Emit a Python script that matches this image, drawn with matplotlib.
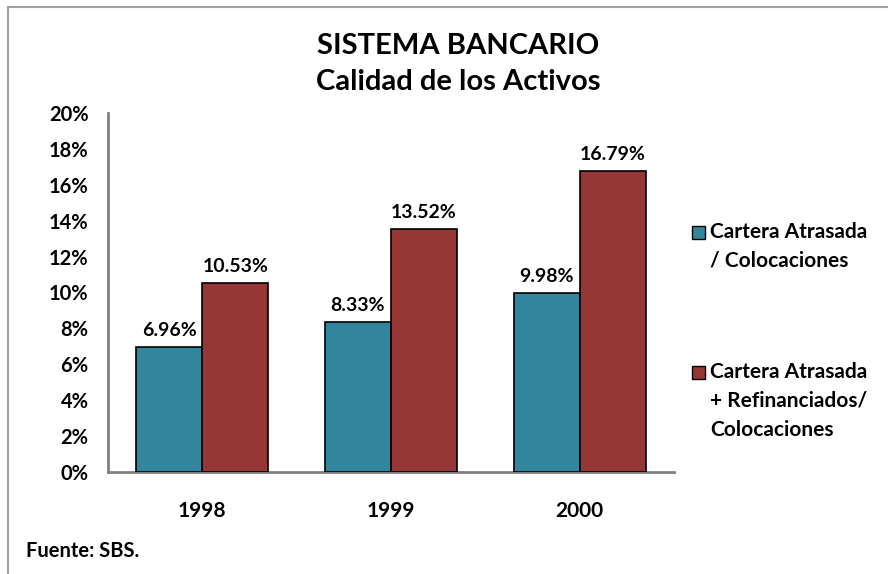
import matplotlib
matplotlib.use("Agg")
import matplotlib.pyplot as plt
from matplotlib.patches import Rectangle
import numpy as np

plt.rcParams['font.family'] = ['Lato', 'DejaVu Sans']

years = ["1998", "1999", "2000"]
series_names = ["Cartera Atrasada\n/ Colocaciones",
                "Cartera Atrasada\n+ Refinanciados/\nColocaciones"]
atrasada = [6.96, 8.33, 9.98]
atrasada_refin = [10.53, 13.52, 16.79]
yticks = [0, 2, 4, 6, 8, 10, 12, 14, 16, 18, 20]
colors = ["#31859C", "#953735"]

fig = plt.figure(figsize=(8.88, 5.74), dpi=100)
ax = fig.add_axes([108/888, 1-472/574, (674-108)/888, (472-113)/574])

x = np.arange(len(years))
w = 0.35
for i, (vals, c) in enumerate(zip([atrasada, atrasada_refin], colors)):
    pos = x + (i - 0.5) * w
    bars = ax.bar(pos, vals, w, color=c, edgecolor="black", linewidth=1.2, zorder=3)
    for b, v in zip(bars, vals):
        ax.text(b.get_x() + b.get_width()/2, v + 0.45, f"{v:.2f}%",
                ha="center", va="bottom", fontsize=14, fontweight="bold")

ax.set_xlim(-0.5, 2.5)
ax.set_ylim(0, 20)
ax.set_yticks(yticks)
ax.set_yticklabels([f"{t}%" for t in yticks], fontsize=14.5, fontweight="bold")
ax.set_xticks(x)
ax.set_xticklabels(years, fontsize=15, fontweight="bold")
ax.tick_params(axis="y", length=0, pad=14)
ax.tick_params(axis="x", length=0, pad=21)
for s in ["top", "right"]:
    ax.spines[s].set_visible(False)
for s in ["left", "bottom"]:
    ax.spines[s].set_color("#808080")
    ax.spines[s].set_linewidth(2)

fig.text(458/888, 1-46/574, "SISTEMA BANCARIO", ha="center", va="center",
         fontsize=21, fontweight="bold")
fig.text(458/888, 1-82/574, "Calidad de los Activos", ha="center", va="center",
         fontsize=21, fontweight="bold")

# legend (manual)
leg_y = [232, 372]
for name, c, yy in zip(series_names, colors, leg_y):
    fig.patches.append(Rectangle((692/888, 1-(yy+7)/574), 13/888, 13/574,
                                 transform=fig.transFigure, facecolor=c,
                                 edgecolor="black", linewidth=1))
    fig.text(710/888, 1-(yy-10)/574, name, ha="left", va="top",
             fontsize=15, fontweight="bold", linespacing=1.55)

fig.text(26/888, 1-551/574, "Fuente: SBS.", ha="left", va="center",
         fontsize=14.5, fontweight="bold")

# chart border
fig.add_artist(plt.Line2D([8/888, 8/888], [0, 1-7/574], transform=fig.transFigure,
                          color="#A0A0A0", linewidth=1.5))
fig.add_artist(plt.Line2D([8/888, 1], [1-7/574, 1-7/574], transform=fig.transFigure,
                          color="#A0A0A0", linewidth=1.5))

fig.savefig("out.png", dpi=100)
